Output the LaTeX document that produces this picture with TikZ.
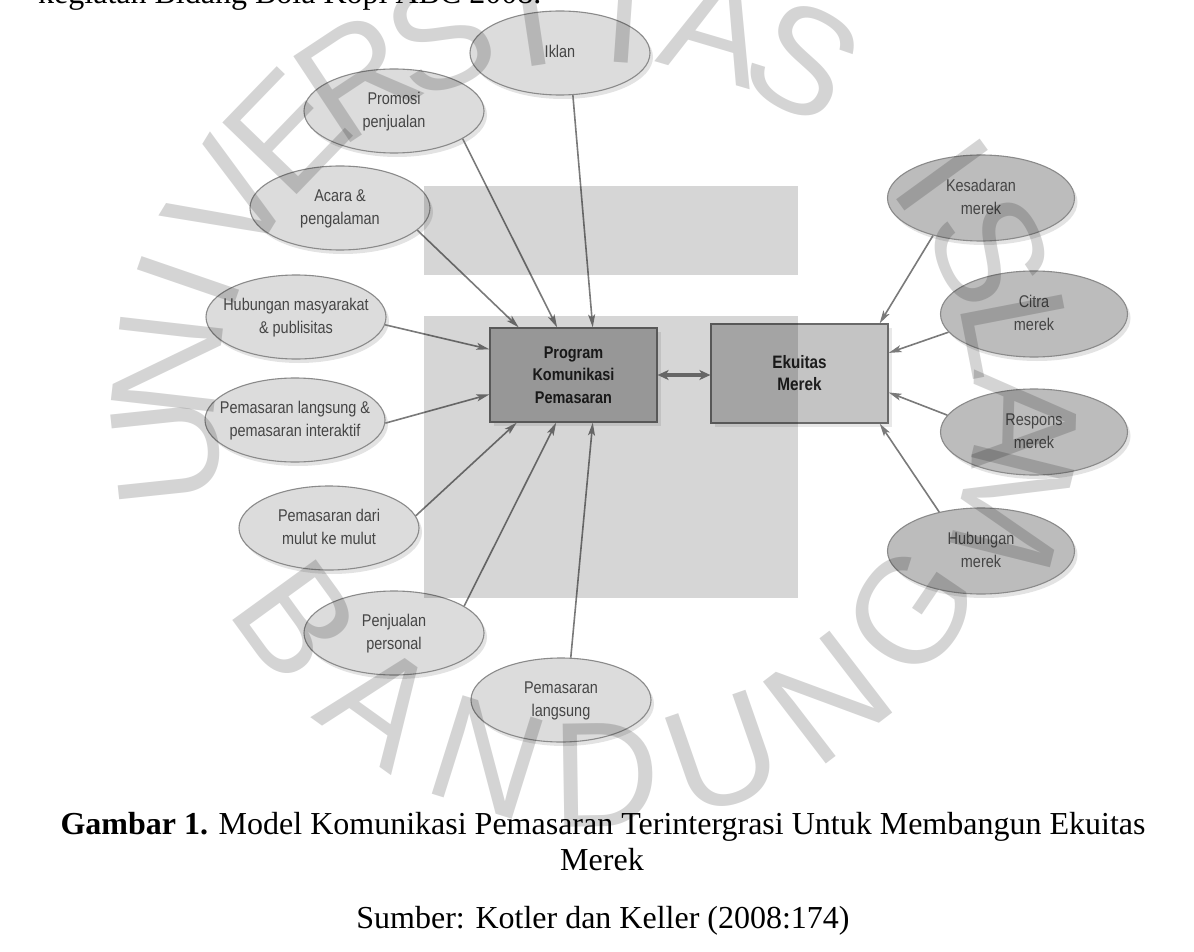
\documentclass[tikz,border=0pt]{standalone}
\usepackage{fontspec}
\setmainfont{Liberation Serif}
\newfontfamily\cond[FakeStretch=0.85]{Liberation Sans}
\newfontfamily\wmfont{Liberation Sans}
\usetikzlibrary{shapes.geometric,arrows.meta,shadows}
\definecolor{ellL}{HTML}{DCDCDC}
\definecolor{ellR}{HTML}{BCBCBC}
\definecolor{edgec}{HTML}{7A7A7A}
\definecolor{ellborder}{HTML}{8A8A8A}
\definecolor{txt}{HTML}{454545}
\definecolor{boxtxt}{HTML}{1E1E1E}
\definecolor{boxA}{HTML}{B4B4B4}
\definecolor{boxB}{HTML}{C4C4C4}
\definecolor{boxborder}{HTML}{6A6A6A}
\newcommand\zw[1]{\makebox[0pt]{\begin{tabular}{@{}c@{}}#1\end{tabular}}}
\tikzset{
  ell/.style={ellipse, draw=ellborder, line width=1.1pt, minimum width=180pt,
    minimum height=84pt, inner sep=0pt, text=txt,
    font=\cond\fontsize{17}{23}\selectfont,
    drop shadow={shadow xshift=3pt, shadow yshift=-4pt, opacity=0.22}},
  ellleft/.style={ell, fill=ellL},
  ellright/.style={ell, fill=ellR, minimum width=187pt, minimum height=86pt},
  mainbox/.style={rectangle, draw=boxborder, line width=1.2pt, text=boxtxt,
    font=\cond\bfseries\fontsize{17}{22.5}\selectfont, align=center,
    drop shadow={shadow xshift=4pt, shadow yshift=-4pt, opacity=0.18}},
  conn/.style={draw=edgec, line width=1.6pt,
    -{Stealth[length=13pt,width=7pt,inset=3pt]}},
  dbl/.style={draw=edgec, line width=3.5pt,
    {Stealth[length=11pt,width=10pt,inset=3pt]}-{Stealth[length=11pt,width=10pt,inset=3pt]}},
  captext/.style={inner sep=0pt, anchor=base, font=\fontsize{32}{37}\selectfont},
  wm/.style={text=black, opacity=0.17, font=\wmfont\fontsize{150}{150}\selectfont, inner sep=0pt}
}
\begin{document}
\begin{tikzpicture}[x=1pt,y=-1pt]
\useasboundingbox (0,0) rectangle (1194,952);
\clip (0,0) rectangle (1194,952);
\fill[white] (0,0) rectangle (1194,952);

% top cut-off text line
\node[inner sep=0pt, anchor=base west, font=\fontsize{32}{37}\selectfont] (toptext) at (38,4) {kegiatan Bidang Bola Kopi ABC 2008.};

% left ellipses
\node[ellleft] (iklan) at (560,53) {\zw{Iklan}};
\node[ellleft] (promosi) at (394,111) {\zw{Promosi\\penjualan}};
\node[ellleft] (acara) at (340,208) {\zw{Acara \&\\pengalaman}};
\node[ellleft] (humas) at (296,317) {\zw{Hubungan masyarakat\\\& publisitas}};
\node[ellleft] (pli) at (295,420) {\zw{Pemasaran langsung \&\\pemasaran interaktif}};
\node[ellleft] (dari) at (329,528) {\zw{Pemasaran dari\\mulut ke mulut}};
\node[ellleft] (personal) at (394,633) {\zw{Penjualan\\personal}};
\node[ellleft] (langsung) at (561,700) {\zw{Pemasaran\\langsung}};

% right ellipses
\node[ellright] (kesadaran) at (981,198) {\zw{Kesadaran\\merek}};
\node[ellright] (citra) at (1034,314) {\zw{Citra\\merek}};
\node[ellright] (respons) at (1034,432) {\zw{Respons\\merek}};
\node[ellright] (hubmerek) at (981,551) {\zw{Hubungan\\merek}};

% boxes
\node[mainbox, fill=boxA, minimum width=167pt, minimum height=94pt] (prog) at (573.5,375) {Program\\Komunikasi\\Pemasaran};
\node[mainbox, fill=boxB, minimum width=177pt, minimum height=99pt, font=\cond\bfseries\fontsize{18}{22}\selectfont] (ekuitas) at (799.5,373.5) {Ekuitas\\Merek};

% connectors
\draw[conn] (iklan.-73) -- (prog.68);
\draw[conn] (promosi.-22) -- (prog.109);
\draw[conn] (acara.-16) -- (prog.139);
\draw[conn] (humas.-5) -- (prog.163);
\draw[conn] (pli.-2) -- (prog.193);
\draw[conn] (dari.8) -- (prog.220);
\draw[conn] (personal.21) -- (prog.250);
\draw[conn] (langsung.77) -- (prog.292);

\draw[conn] (kesadaran.218) -- (ekuitas.32);
\draw[conn] (citra.192) -- (ekuitas.13);
\draw[conn] (respons.169) -- (ekuitas.-12);
\draw[conn] (hubmerek.137) -- (ekuitas.-32);

\draw[dbl] (prog.east) -- (prog.east -| ekuitas.west);

% watermark rectangles
\fill[black, opacity=0.16] (424,186) rectangle (798,275);
\fill[black, opacity=0.16] (424,316) rectangle (798,598);

% watermark letters
\foreach \ch [count=\i from 0] in {U,N,I,V,E,R,S,I,T,A,S,{},I,S,L,A,M} {
  \pgfmathsetmacro{\ang}{186-12.5*\i}
  \node[wm, rotate=\ang-90] at ({595+430*cos(\ang)}, {410-400*sin(\ang)}) {\ch};
}
\foreach \ch [count=\i from 0] in {B,A,N,D,U,N,G} {
  \pgfmathsetmacro{\ang}{216+18.3*\i}
  \node[wm, rotate=\ang+90] at ({600+375*cos(\ang)}, {400-375*sin(\ang)}) {\ch};
}

% caption
\node[captext] (cap1) at (603,834) {\textbf{Gambar 1.} Model Komunikasi Pemasaran Terintergrasi Untuk Membangun Ekuitas};
\node[captext] (cap2) at (602,870) {Merek};
\node[captext] (src) at (603,928) {Sumber: Kotler dan Keller (2008:174)};
\end{tikzpicture}
\end{document}
